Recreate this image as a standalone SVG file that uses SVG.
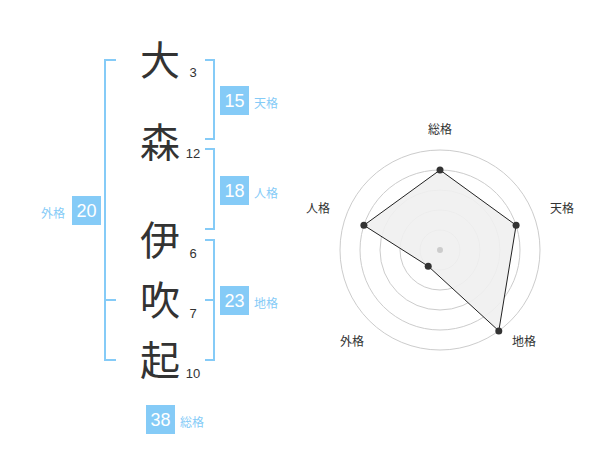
<svg xmlns="http://www.w3.org/2000/svg" width="600" height="470" viewBox="0 0 600 470">
<style>
.k{font-family:"Noto Sans CJK JP","Noto Sans CJK SC",sans-serif;font-size:40px;fill:#333;text-anchor:middle}
.n{font-family:"Liberation Sans",Arial,sans-serif;font-size:13px;fill:#333;text-anchor:middle}
.br{fill:none;stroke:#85cbf7;stroke-width:2}
.box{fill:#85cbf7}
.bn{font-family:"Liberation Sans",Arial,sans-serif;font-size:18px;fill:#fff;text-anchor:middle}
.bl{font-family:"Noto Sans CJK JP","Noto Sans CJK SC",sans-serif;font-size:12px;fill:#85cbf7}
.ring{fill:none;stroke:#cccccc;stroke-width:1}
.rl{font-family:"Noto Sans CJK JP","Noto Sans CJK SC",sans-serif;font-size:12px;fill:#333;text-anchor:middle}
.pt{fill:#333}
</style>
<g id="chars">
<text class="k" x="160" y="75">大</text>
<text class="k" x="160" y="157">森</text>
<text class="k" x="160" y="255">伊</text>
<text class="k" x="160" y="315">吹</text>
<text class="k" x="160" y="375">起</text>
<text class="n" x="193" y="77">3</text>
<text class="n" x="193" y="158">12</text>
<text class="n" x="193" y="258">6</text>
<text class="n" x="193" y="318">7</text>
<text class="n" x="193" y="378">10</text>
</g>
<g id="brackets">
<path class="br" d="M116,60 H105 V360 H116 M105,300 H116"/>
<path class="br" d="M205,60 H214 V139 H205"/>
<path class="br" d="M205,149 H214 V229 H205"/>
<path class="br" d="M205,240 H214 V360 H205 M205,300 H214"/>
</g>
<g id="tenkaku">
<rect class="box" x="220" y="86" width="29" height="29"/>
<text class="bn" x="234.5" y="107">15</text>
<text class="bl" x="254" y="108">天格</text>
</g>
<g id="jinkaku">
<rect class="box" x="220" y="176" width="29" height="29"/>
<text class="bn" x="234.5" y="197">18</text>
<text class="bl" x="254" y="198">人格</text>
</g>
<g id="chikaku">
<rect class="box" x="220" y="286" width="29" height="29"/>
<text class="bn" x="234.5" y="307">23</text>
<text class="bl" x="254" y="308">地格</text>
</g>
<g id="gaikaku">
<rect class="box" x="72" y="196" width="29" height="29"/>
<text class="bn" x="86.5" y="217">20</text>
<text class="bl" x="41" y="218">外格</text>
</g>
<g id="soukaku">
<rect class="box" x="146" y="405" width="29" height="29"/>
<text class="bn" x="160.5" y="426">38</text>
<text class="bl" x="180" y="427">総格</text>
</g>
<g id="radar">
<circle class="ring" cx="440" cy="250" r="20"/>
<circle class="ring" cx="440" cy="250" r="40"/>
<circle class="ring" cx="440" cy="250" r="60"/>
<circle class="ring" cx="440" cy="250" r="80"/>
<circle class="ring" cx="440" cy="250" r="100"/>
<polygon points="440,170 516.1,225.3 498.8,330.9 428.2,266.2 363.9,225.3" fill="#efefef" fill-opacity="0.9" stroke="#222" stroke-width="1"/>
<circle cx="440" cy="250" r="3" fill="#cccccc"/>
<circle class="pt" cx="440" cy="170" r="3.5"/>
<circle class="pt" cx="516.1" cy="225.3" r="3.5"/>
<circle class="pt" cx="498.8" cy="330.9" r="3.5"/>
<circle class="pt" cx="428.2" cy="266.2" r="3.5"/>
<circle class="pt" cx="363.9" cy="225.3" r="3.5"/>
<text class="rl" x="440" y="134">総格</text>
<text class="rl" x="562" y="213">天格</text>
<text class="rl" x="524" y="346">地格</text>
<text class="rl" x="352" y="346">外格</text>
<text class="rl" x="318" y="213">人格</text>
</g>
</svg>
